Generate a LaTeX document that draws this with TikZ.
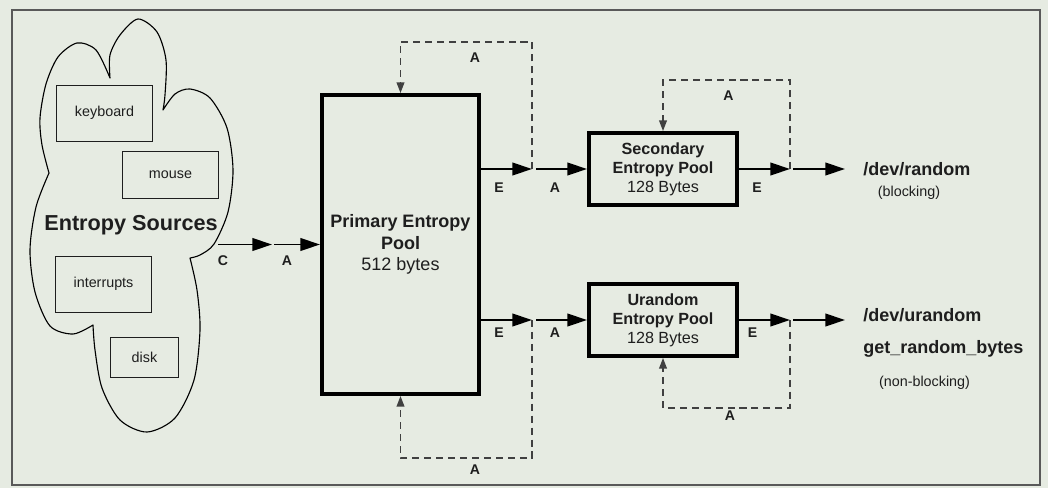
\documentclass[tikz,border=0pt]{standalone}
\usepackage{fontspec}
\setmainfont{Liberation Sans}
\usetikzlibrary{arrows.meta}
\definecolor{bgcol}{HTML}{E6EBE2}
\definecolor{framecol}{HTML}{595959}
\definecolor{inkcol}{HTML}{1E1E1E}
\definecolor{dashcol}{HTML}{404040}

\begin{document}
\begin{tikzpicture}[x=0.025cm,y=-0.025cm,
    pool/.style={draw,line width=2.8pt,inner sep=0pt,align=center,text=inkcol},
    srcbox/.style={draw=inkcol,line width=0.7pt,inner sep=0pt,text=inkcol,font=\fontsize{10.2}{12}\selectfont},
    flow/.style={line width=1.4pt,-{Triangle[length=14pt,width=9pt]}},
    back/.style={draw=dashcol,line width=0.9pt,dash pattern=on 5pt off 3.5pt,-{Triangle[length=7.5pt,width=5.5pt]}},
    lbl/.style={inner sep=0pt,text=inkcol,font=\bfseries\fontsize{10}{12}\selectfont},
    devtxt/.style={inner sep=0pt,anchor=base west,text=inkcol,font=\bfseries\fontsize{12.8}{15}\selectfont},
    note/.style={inner sep=0pt,anchor=base,text=inkcol,font=\fontsize{10.2}{12}\selectfont}]
    % background and frame
    \fill[bgcol] (0,0) rectangle (1048,488);
    \draw[framecol,line width=1.4pt] (12,10) rectangle (1040,485);

    % entropy sources cloud, one lobe at a time
    \draw[line width=0.8pt,line join=round,line cap=round]
        plot[smooth] coordinates {(110,78) (110,55) (120,35) (138,19) (157,32) (166,60) (165,95) (163,110)}
        plot[smooth] coordinates {(163,110) (175,94) (190,89) (210,98) (227,128) (233,170) (228,212) (214,244) (200,255) (190,258)}
        plot[smooth] coordinates {(190,258) (197,290) (200,330) (194,380) (175,418) (147,432) (120,420) (102,388) (95,350) (93,325)}
        plot[smooth] coordinates {(93,325) (73,334) (50,326) (35,292) (30,250) (36,207) (49,173)}
        plot[smooth] coordinates {(49,173) (42,145) (40,118) (46,84) (58,57) (77,43) (96,50) (110,78)};
    \node[srcbox,minimum width=2.375cm,minimum height=1.4cm] (kbd) at (104.5,113) {keyboard};
    \node[srcbox,minimum width=2.375cm,minimum height=1.175cm] (mouse) at (170.5,174.5) {mouse};
    \node[srcbox,minimum width=2.375cm,minimum height=1.4cm] (irq) at (103.5,284) {interrupts};
    \node[srcbox,minimum width=1.675cm,minimum height=1cm] (disk) at (144.5,357) {disk};
    \node[inner sep=0pt,text=inkcol,font=\bfseries\fontsize{15.4}{18}\selectfont] (srcs) at (131,225) {Entropy Sources};

    % pools
    \node[pool,minimum width=3.925cm,minimum height=7.475cm,font=\fontsize{12.8}{15.3}\selectfont] (prim) at (400.5,244.5)
        {\textbf{Primary Entropy}\\\textbf{Pool}\\512 bytes};
    \node[pool,minimum width=3.7cm,minimum height=1.8cm,font=\fontsize{11.5}{13.5}\selectfont] (sec) at (663,169)
        {\textbf{Secondary}\\\textbf{Entropy Pool}\\128 Bytes};
    \node[pool,minimum width=3.7cm,minimum height=1.8cm,font=\fontsize{11.5}{13.5}\selectfont] (ura) at (663,320)
        {\textbf{Urandom}\\\textbf{Entropy Pool}\\128 Bytes};

    % junctions
    \coordinate (cloudout) at (218,244.5);
    \coordinate (jc) at (272,244.5);
    \coordinate (jp1) at (532,169);
    \coordinate (jp2) at (532,320);
    \coordinate (js) at (790,169);
    \coordinate (ju) at (790,320);
    \coordinate (topA) at (400.5,42);
    \coordinate (botA) at (400.5,458);
    \coordinate (secT) at (663,80);
    \coordinate (uraB) at (663,408);
    \coordinate (rnd) at (845,169);
    \coordinate (urnd) at (845,320);

    % main flow
    \draw[flow] (cloudout) -- (jc);
    \draw[flow] ([xshift=0.5mm]jc) -- (prim.west);
    \draw[flow] (prim.east |- jp1) -- (jp1);
    \draw[flow] ([xshift=1mm]jp1) -- (sec.west);
    \draw[flow] (sec.east) -- (js);
    \draw[flow] ([xshift=0.75mm]js) -- (rnd);
    \draw[flow] (prim.east |- jp2) -- (jp2);
    \draw[flow] ([xshift=1mm]jp2) -- (ura.west);
    \draw[flow] (ura.east) -- (ju);
    \draw[flow] ([xshift=0.75mm]ju) -- (urnd);

    % feedback loops
    \draw[back] (jp1) |- (topA) -- (prim.north);
    \draw[back] (jp2) |- (botA) -- (prim.south);
    \draw[back] (js) |- (secT) -- (sec.north);
    \draw[back] (ju) |- (uraB) -- (ura.south);

    % labels
    \node[lbl] (lc) at (223,261) {C};
    \node[lbl] (la0) at (287,261) {A};
    \node[lbl] (le1) at (499,187.5) {E};
    \node[lbl] (la1) at (555,188) {A};
    \node[lbl] (lat) at (475,57.5) {A};
    \node[lbl] (le2) at (757,188) {E};
    \node[lbl] (las) at (728.5,96) {A};
    \node[lbl] (le3) at (499,333) {E};
    \node[lbl] (la3) at (555,333) {A};
    \node[lbl] (lab) at (475,470) {A};
    \node[lbl] (le4) at (752.5,333) {E};
    \node[lbl] (lau) at (730,415.5) {A};

    % outputs
    \node[devtxt] (devr) at (863,175) {/dev/random};
    \node[note] (blk) at (909,196) {(blocking)};
    \node[devtxt] (devu) at (863,321) {/dev/urandom};
    \node[devtxt] (grb) at (863,353) {get\_random\_bytes};
    \node[note] (nblk) at (924.5,386) {(non-blocking)};
\end{tikzpicture}
\end{document}
